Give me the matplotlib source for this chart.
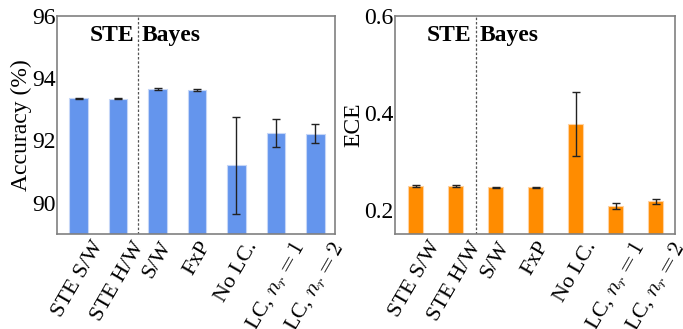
import matplotlib.pyplot as plt
import numpy as np

plt.rcParams["font.family"] = ["Liberation Serif", "DejaVu Serif"]
plt.rcParams["mathtext.fontset"] = "cm"

# data
methods = ["STE S/W", "STE H/W", "S/W", "FxP", "No LC.",
           r"LC, $n_r=1$", r"LC, $n_r=2$"]
acc_mean = [93.35, 93.34, 93.66, 93.62, 91.2, 92.24, 92.22]
acc_err = [0.02, 0.02, 0.03, 0.03, 1.56, 0.44, 0.31]
ece_mean = [0.249, 0.249, 0.246, 0.246, 0.377, 0.208, 0.217]
ece_err = [0.002, 0.002, 0.001, 0.001, 0.066, 0.006, 0.005]

x = np.arange(len(methods))

fig = plt.figure(figsize=(6.83, 3.29), dpi=100)
ax1 = fig.add_axes([0.0835, 0.289, 0.407, 0.663])
ax2 = fig.add_axes([0.578, 0.289, 0.41, 0.663])

# ======================
# ACCURACY
# ======================
ax1.bar(x, acc_mean, width=0.47, color="#6495ED", edgecolor="#c5d6f7",
        linewidth=0.8, yerr=acc_err, capsize=3,
        error_kw=dict(ecolor="#222222", elinewidth=1, capthick=1))
ax1.set_ylim(89, 96)
ax1.set_xlim(-0.55, 6.5)
ax1.set_yticks([90, 92, 94, 96])
ax1.set_ylabel("Accuracy (%)", fontsize=17, labelpad=0)

# ======================
# ECE
# ======================
ax2.bar(x, ece_mean, width=0.37, color="#FF8C00", edgecolor="#ffd2a0",
        linewidth=0.8, yerr=ece_err, capsize=3,
        error_kw=dict(ecolor="#222222", elinewidth=1, capthick=1))
ax2.set_ylim(0.15, 0.6)
ax2.set_xlim(-0.52, 6.48)
ax2.set_yticks([0.2, 0.4, 0.6])
ax2.set_ylabel("ECE", fontsize=17, labelpad=0)

for ax in (ax1, ax2):
    ax.axvline(1.5, color="#555555", linestyle=(0, (2, 1.5)), linewidth=0.9)
    ax.text(1.4, 0.91, "STE", transform=ax.get_xaxis_transform(),
            ha="right", va="center", fontsize=17, fontweight="bold")
    ax.text(1.6, 0.91, "Bayes", transform=ax.get_xaxis_transform(),
            ha="left", va="center", fontsize=17, fontweight="bold")
    ax.set_xticks(x)
    ax.set_xticklabels(methods, rotation=60, ha="center", fontsize=16)
    ax.tick_params(axis="both", length=0, pad=3)
    ax.tick_params(axis="y", labelsize=17, pad=1)
    for s in ax.spines.values():
        s.set_color("#808080")
        s.set_linewidth(1.2)

plt.savefig("out.png", dpi=100)
plt.close()
